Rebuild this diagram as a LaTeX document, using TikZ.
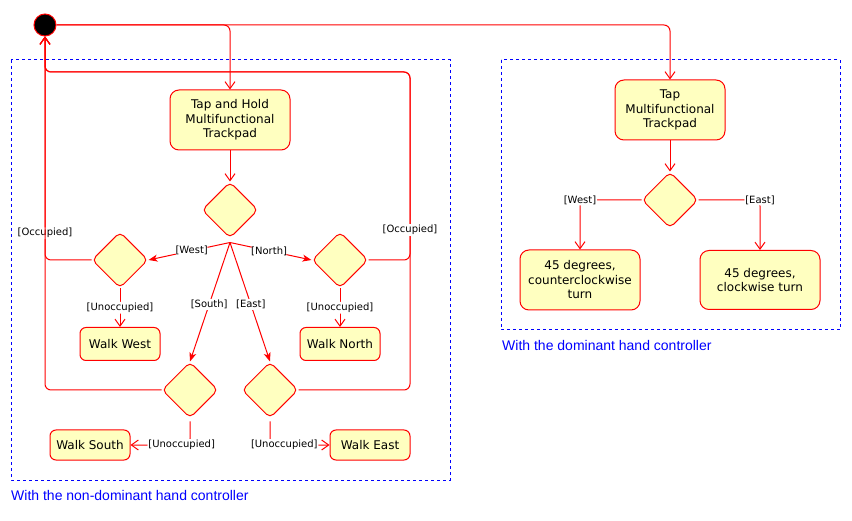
\documentclass[tikz,border=0pt]{standalone}
\usepackage{fontspec}
\setmainfont{DejaVu Sans}
\newfontfamily\grpfont{Liberation Sans}
\usetikzlibrary{shapes.geometric,arrows.meta,calc}
\definecolor{nodefill}{HTML}{FFFFC0}
\definecolor{rd}{HTML}{FF0000}
\definecolor{bl}{HTML}{0000FF}
\tikzset{
  x=1pt, y=-1pt,
  act/.style={draw=rd, fill=nodefill, line width=1pt, rounded corners=9pt, align=center,
    font=\fontsize{12}{14.5}\selectfont, inner sep=2pt},
  dec/.style={draw=rd, fill=nodefill, line width=1pt, diamond, rounded corners=5pt,
    minimum width=56pt, minimum height=56pt, inner sep=0pt},
  conn/.style={draw=rd, line width=1pt, rounded corners=6pt},
  open/.style={conn, -{Straight Barb[length=7pt,width=10pt,line width=1pt]}},
  filled/.style={conn, -{Stealth[length=9pt,width=7pt,inset=2.5pt]}},
  lbl/.style={fill=white, inner sep=1pt, font=\fontsize{10}{12}\selectfont, text=black},
  grp/.style={draw=bl, line width=1pt, dash pattern=on 3pt off 3pt},
  grplbl/.style={text=bl, anchor=west, font=\grpfont\fontsize{14}{16}\selectfont, inner sep=0pt}
}
\begin{document}
\begin{tikzpicture}
\useasboundingbox (0,0) rectangle (852,521);
% groups
\draw[grp] (11,60) rectangle (450,480);
\node[grplbl] (g1) at (11,495) {With the non-dominant hand controller};
\draw[grp] (501,60) rectangle (840,330);
\node[grplbl] (g2) at (502,345) {With the dominant hand controller};
% start
\node[circle, draw=rd, fill=black, line width=1pt, minimum size=22pt, inner sep=0pt] (start) at (45,25) {};
% left part
\node[act, minimum width=120pt, minimum height=60pt] (tah) at (230,120) {Tap and Hold\\Multifunctional\\Trackpad};
\node[dec] (d0) at (230,210) {};
\node[dec] (dW) at (120,260) {};
\node[dec] (dN) at (340,260) {};
\node[dec] (dS) at (190,390) {};
\node[dec] (dE) at (270,390) {};
\node[act, minimum width=80pt, minimum height=33pt, rounded corners=6pt] (wW) at (120,344) {Walk West};
\node[act, minimum width=80pt, minimum height=33pt, rounded corners=6pt] (wN) at (340,344) {Walk North};
\node[act, minimum width=80pt, minimum height=30pt, rounded corners=6pt] (wS) at (90,445) {Walk South};
\node[act, minimum width=80pt, minimum height=30pt, rounded corners=6pt] (wE) at (370,445) {Walk East};
\coordinate (d0b) at ($(d0.south)+(0,4)$);
\coordinate (topR) at (410,72);
% right part
\node[act, minimum width=110pt, minimum height=60pt] (tap) at (670,110) {Tap\\Multifunctional\\Trackpad};
\node[dec] (dR) at (670,200) {};
\node[act, minimum width=120pt, minimum height=60pt] (ccw) at (580,280) {45 degrees,\\counterclockwise\\turn};
\node[act, minimum width=120pt, minimum height=59pt] (cw) at (760,280) {45 degrees,\\clockwise turn};
% connectors
\draw[open] (start.east) -| (tah.north);
\draw[open] (start.east) -| (tap.north);
\draw[open] (tah.south) -- (d0.north);
\draw[filled] (d0b) -- node[lbl, pos=0.47]{[West]} (dW.east);
\draw[filled] (d0b) -- node[lbl, pos=0.48]{[North]} (dN.west);
\draw[filled] (d0b) -- node[lbl, pos=0.52]{[South]} (dS.north);
\draw[filled] (d0b) -- node[lbl, pos=0.52]{[East]} (dE.north);
\draw[open] (dW.west) -| node[lbl, pos=0.56]{[Occupied]} (start.south);
\draw[open] (dS.west) -| (start.south);
\draw[open] (dE.east) -| (topR) -| (start.south);
\draw[open] (dN.east) -| node[lbl, pos=0.58]{[Occupied]} (topR) -| (start.south);
\draw[open] (dW.south) -- node[lbl]{[Unoccupied]} (wW.north);
\draw[open] (dN.south) -- node[lbl]{[Unoccupied]} (wN.north);
\draw[open] ($(dS.south)+(0,3)$) |- node[lbl, pos=0.57]{[Unoccupied]} (wS.east);
\draw[open] ($(dE.south)+(0,3)$) |- node[lbl, pos=0.62]{[Unoccupied]} (wE.west);
\draw[open] (tap.south) -- (dR.north);
\draw[open] (dR.west) -| node[lbl, pos=0.5]{[West]} (ccw.north);
\draw[open] (dR.east) -| node[lbl, pos=0.5]{[East]} (cw.north);
\end{tikzpicture}
\end{document}
